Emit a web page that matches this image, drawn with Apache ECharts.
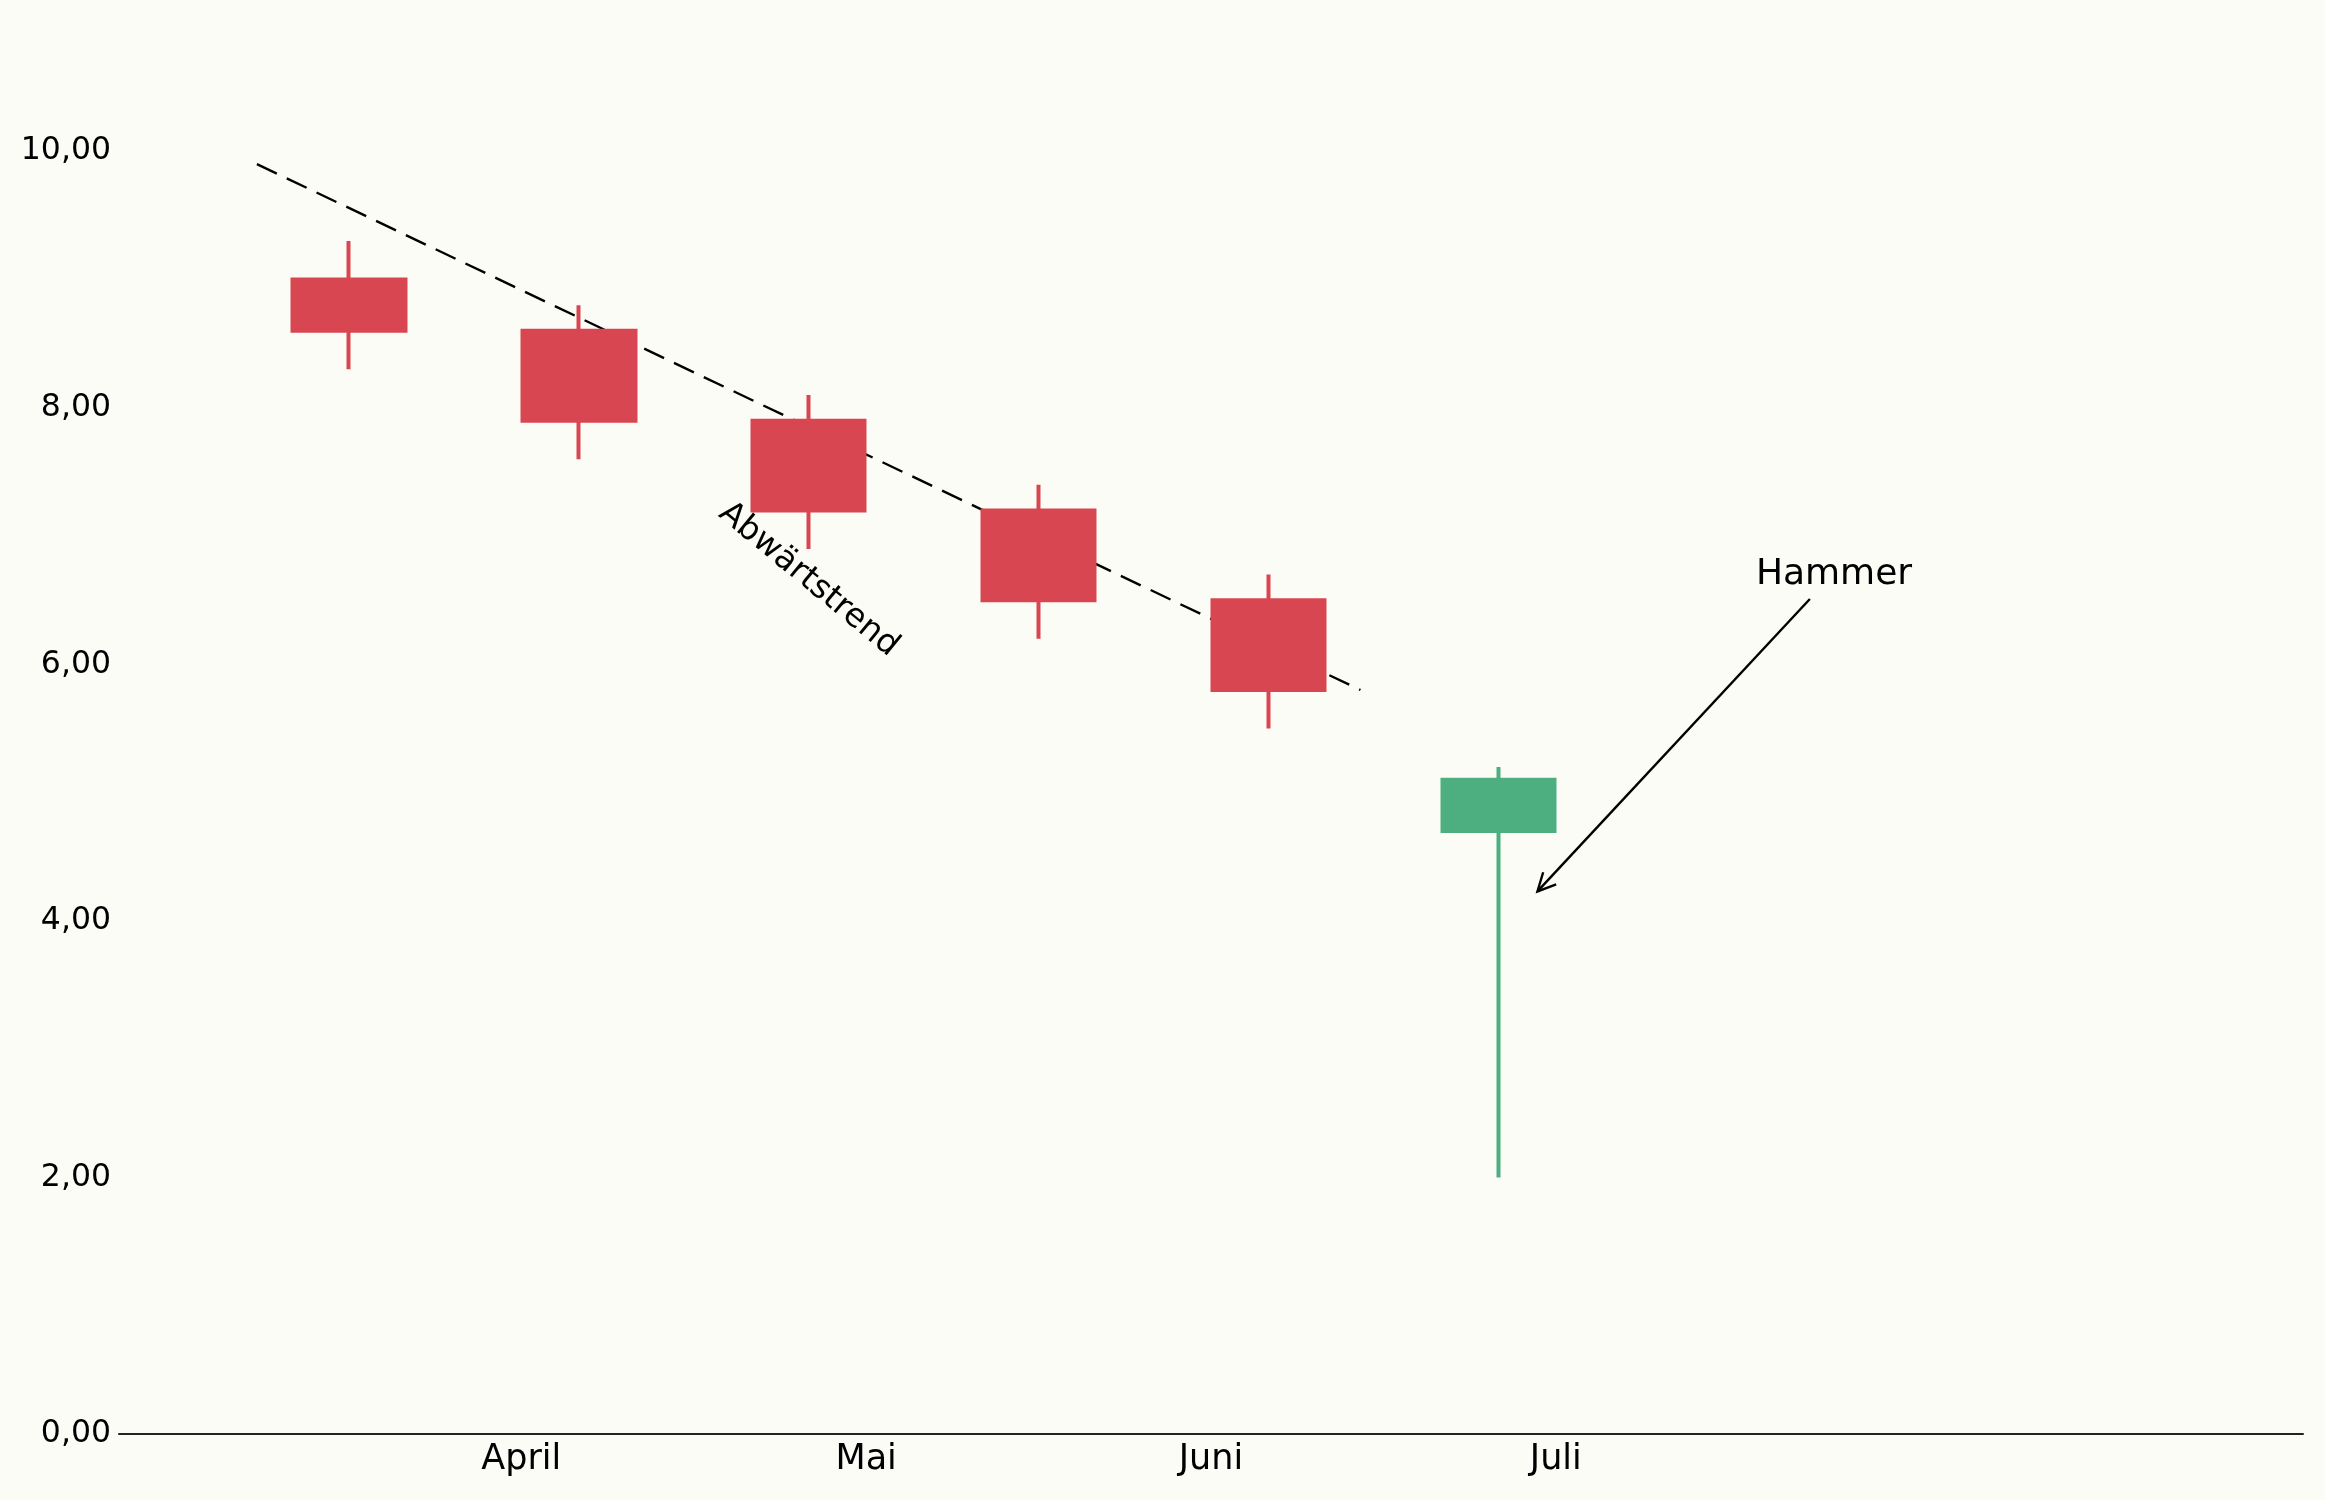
<!DOCTYPE html>
<html><head><meta charset="utf-8">
<script src="https://cdn.jsdelivr.net/npm/echarts@6/dist/echarts.min.js"></script>
<style>html,body{margin:0;padding:0;background:#fcfcf7;} #chart{width:2325px;height:1500px;}</style>
</head><body><div id="chart"></div>
<script>
// ---- data ----
const candlePositions = [0, 1, 2, 3, 4, 5];
const openValues  = [9.0, 8.6, 7.9, 7.2, 6.5, 4.7];
const closeValues = [8.6, 7.9, 7.2, 6.5, 5.8, 5.1];
const lowValues   = [8.3, 7.6, 6.9, 6.2, 5.5, 2.0];
const highValues  = [9.3, 8.8, 8.1, 7.4, 6.7, 5.2];
const monthLabels = ['April', 'Mai', 'Juni', 'Juli'];
const monthPositions = [0.75, 2.25, 3.75, 5.25];
const yTicks = [0, 2, 4, 6, 8, 10];
const trendX = [-0.4, 4.4];
const trendY = [9.9, 5.8];
const trendLabel = 'Abwärtstrend';
const trendLabelPos = [2.0, 6.66];
const hammerLabel = 'Hammer';
const hammerTextPos = [6.46, 6.7];
const hammerArrowFrom = [6.355, 6.51];
const hammerArrowTo = [5.17, 4.23];

const RED = '#d84651', GREEN = '#4daf80';
const FONT = 'DejaVu Sans';

const chart = echarts.init(document.getElementById('chart'));
chart.setOption({
  backgroundColor: '#fcfcf7',
  animation: false,
  grid: { left: 119, right: 22, top: 23, bottom: 66 },
  xAxis: {
    type: 'value', min: -1, max: 8.5,
    splitLine: { show: false },
    axisTick: { show: false },
    axisLine: { show: true, lineStyle: { color: '#222', width: 2 } },
    axisLabel: {
      customValues: monthPositions,
      formatter: v => { const i = monthPositions.indexOf(v); return i >= 0 ? monthLabels[i] : ''; },
      fontFamily: FONT, fontSize: 35, color: '#000', margin: 8
    }
  },
  yAxis: {
    type: 'value', min: 0, max: 11,
    splitLine: { show: false },
    axisTick: { show: false },
    axisLine: { show: false },
    axisLabel: {
      customValues: yTicks,
      formatter: v => v.toFixed(2).replace('.', ','),
      fontFamily: FONT, fontSize: 31.5, color: '#000', margin: 8,
      padding: [6, 0, 0, 0]
    }
  },
  series: [
    {
      type: 'line', z: 1,
      data: trendX.map((x, i) => [x, trendY[i]]),
      symbol: 'none',
      lineStyle: { color: '#000', width: 2.4, type: [22, 11] }
    },
    {
      type: 'candlestick', z: 2,
      data: candlePositions.map((x, i) => [x, openValues[i], closeValues[i], lowValues[i], highValues[i]]),
      encode: { x: 0, y: [1, 2, 3, 4] },
      barWidth: 113,
      itemStyle: { color: GREEN, color0: RED, borderColor: GREEN, borderColor0: RED, borderWidth: 4 }
    },
    {
      type: 'custom', z: 3,
      data: [[hammerArrowFrom[0], hammerArrowFrom[1], hammerArrowTo[0], hammerArrowTo[1]]],
      encode: { x: [0, 2], y: [1, 3] },
      renderItem: (params, api) => {
        const p0 = api.coord([api.value(0), api.value(1)]);
        const p1 = api.coord([api.value(2), api.value(3)]);
        const ang = Math.atan2(p0[1] - p1[1], p0[0] - p1[0]);
        const L = 20, a = 0.46;
        const h1 = [p1[0] + L * Math.cos(ang + a), p1[1] + L * Math.sin(ang + a)];
        const h2 = [p1[0] + L * Math.cos(ang - a), p1[1] + L * Math.sin(ang - a)];
        return { type: 'group', children: [
          { type: 'line', shape: { x1: p0[0], y1: p0[1], x2: p1[0], y2: p1[1] }, style: { stroke: '#000', lineWidth: 2.4 } },
          { type: 'polyline', shape: { points: [h1, p1, h2] }, style: { stroke: '#000', lineWidth: 2.4, fill: null } }
        ]};
      }
    },
    {
      type: 'custom', z: 3,
      data: [[trendLabelPos[0], trendLabelPos[1], 0], [hammerTextPos[0], hammerTextPos[1], 1]],
      encode: { x: 0, y: 1 },
      renderItem: (params, api) => {
        const p = api.coord([api.value(0), api.value(1)]);
        const which = api.value(2);
        return {
          type: 'text', x: p[0], y: p[1],
          rotation: which === 0 ? -39.5 * Math.PI / 180 : 0,
          style: {
            text: which === 0 ? trendLabel : hammerLabel,
            fontFamily: FONT, fontSize: which === 0 ? 33 : 36, fill: '#000',
            align: 'center', verticalAlign: 'middle'
          }
        };
      }
    }
  ]
});
</script></body></html>
